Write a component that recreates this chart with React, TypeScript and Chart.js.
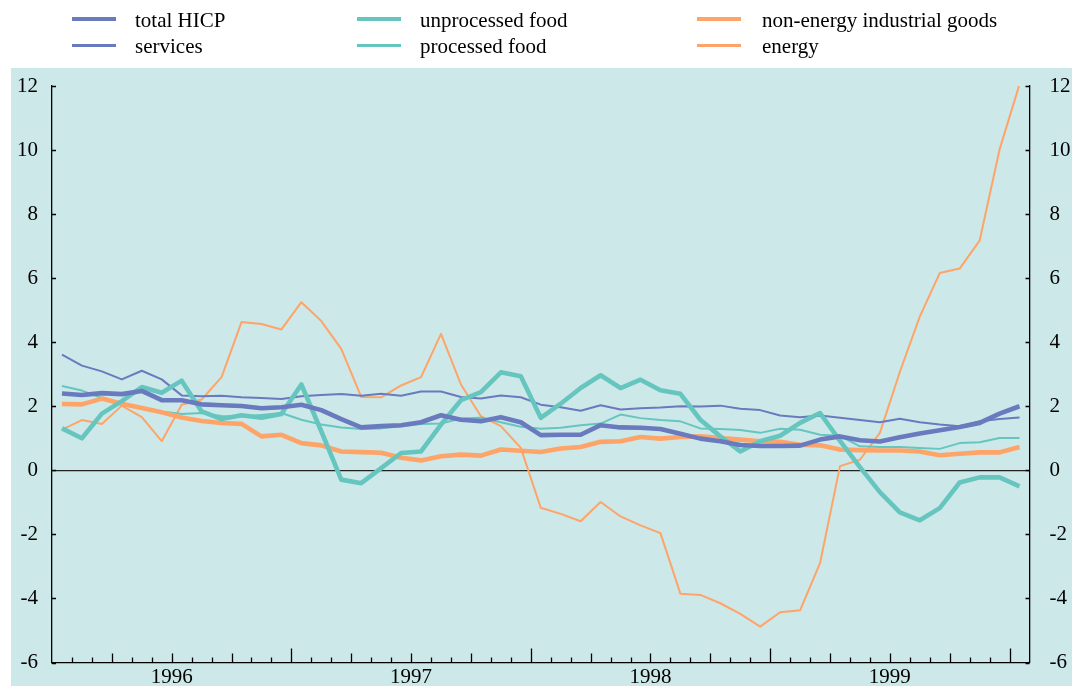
import React, { useEffect, useRef } from 'react';
import { Chart, registerables } from 'chart.js';

Chart.register(...registerables);

// ---- data ----
const months = [
  'Jan 1996', 'Feb 1996', 'Mar 1996', 'Apr 1996', 'May 1996', 'Jun 1996', 'Jul 1996', 'Aug 1996', 'Sep 1996', 'Oct 1996', 'Nov 1996', 'Dec 1996',
  'Jan 1997', 'Feb 1997', 'Mar 1997', 'Apr 1997', 'May 1997', 'Jun 1997', 'Jul 1997', 'Aug 1997', 'Sep 1997', 'Oct 1997', 'Nov 1997', 'Dec 1997',
  'Jan 1998', 'Feb 1998', 'Mar 1998', 'Apr 1998', 'May 1998', 'Jun 1998', 'Jul 1998', 'Aug 1998', 'Sep 1998', 'Oct 1998', 'Nov 1998', 'Dec 1998',
  'Jan 1999', 'Feb 1999', 'Mar 1999', 'Apr 1999', 'May 1999', 'Jun 1999', 'Jul 1999', 'Aug 1999', 'Sep 1999', 'Oct 1999', 'Nov 1999', 'Dec 1999',
  'Jan 2000',
];
const yearLabels = ['1996', '1997', '1998', '1999'];

const totalHICP = [
  2.40, 2.35, 2.41, 2.38, 2.48, 2.19, 2.19, 2.06, 2.03, 2.01, 1.94, 1.97,
  2.05, 1.88, 1.60, 1.34, 1.38, 1.41, 1.50, 1.72, 1.58, 1.53, 1.66, 1.50,
  1.10, 1.11, 1.11, 1.41, 1.34, 1.33, 1.29, 1.14, 0.99, 0.91, 0.79, 0.76,
  0.76, 0.77, 0.96, 1.06, 0.94, 0.90, 1.03, 1.15, 1.25, 1.35, 1.48, 1.77,
  2.00,
];
const services = [
  3.61, 3.27, 3.09, 2.84, 3.11, 2.84, 2.34, 2.31, 2.33, 2.28, 2.26, 2.23,
  2.31, 2.35, 2.38, 2.33, 2.39, 2.33, 2.46, 2.46, 2.29, 2.24, 2.34, 2.28,
  2.05, 1.97, 1.86, 2.03, 1.90, 1.94, 1.96, 2.00, 1.99, 2.02, 1.92, 1.88,
  1.71, 1.66, 1.71, 1.64, 1.57, 1.50, 1.61, 1.50, 1.43, 1.38, 1.53, 1.60,
  1.65,
];
const unprocessedFood = [
  1.31, 1.00, 1.77, 2.16, 2.60, 2.42, 2.80, 1.84, 1.60, 1.72, 1.64, 1.76,
  2.68, 1.22, -0.29, -0.40, 0.07, 0.54, 0.59, 1.43, 2.19, 2.44, 3.06, 2.94,
  1.64, 2.08, 2.57, 2.97, 2.57, 2.83, 2.50, 2.39, 1.58, 1.06, 0.59, 0.91,
  1.08, 1.48, 1.79, 0.92, 0.10, -0.68, -1.31, -1.56, -1.18, -0.38, -0.22, -0.22,
  -0.50,
];
const processedFood = [
  2.63, 2.49, 2.26, 2.05, 1.94, 1.84, 1.76, 1.79, 1.70, 1.68, 1.73, 1.79,
  1.58, 1.43, 1.34, 1.29, 1.31, 1.38, 1.45, 1.46, 1.62, 1.64, 1.50, 1.36,
  1.30, 1.33, 1.41, 1.46, 1.74, 1.63, 1.57, 1.53, 1.31, 1.29, 1.26, 1.17,
  1.30, 1.27, 1.11, 1.08, 0.75, 0.73, 0.73, 0.70, 0.67, 0.85, 0.88, 1.01,
  1.01,
];
const nonEnergyGoods = [
  2.07, 2.06, 2.24, 2.08, 1.95, 1.81, 1.65, 1.54, 1.48, 1.45, 1.06, 1.11,
  0.85, 0.78, 0.59, 0.57, 0.55, 0.39, 0.31, 0.44, 0.49, 0.46, 0.65, 0.61,
  0.57, 0.68, 0.73, 0.89, 0.91, 1.04, 0.99, 1.04, 1.06, 1.01, 0.96, 0.91,
  0.89, 0.80, 0.78, 0.65, 0.63, 0.62, 0.62, 0.59, 0.47, 0.52, 0.56, 0.56,
  0.73,
];
const energy = [
  1.27, 1.57, 1.45, 2.02, 1.66, 0.91, 2.05, 2.21, 2.91, 4.63, 4.57, 4.40,
  5.25, 4.66, 3.79, 2.29, 2.28, 2.65, 2.91, 4.26, 2.68, 1.69, 1.38, 0.70,
  -1.17, -1.36, -1.59, -0.99, -1.44, -1.72, -1.96, -3.85, -3.89, -4.15, -4.48, -4.88,
  -4.43, -4.37, -2.90, 0.13, 0.33, 1.17, 3.07, 4.80, 6.16, 6.30, 7.17, 10.02,
  12.05,
];

const Y_MIN = -6;
const Y_MAX = 12;
const Y_STEP = 2;

// ---- styles ----
const BLUE = '#6a7abf';
const TEAL = '#66c6bf';
const ORANGE = '#ffa468';
const BG = '#cce8e8';
const FONT = "'Liberation Serif', 'Times New Roman', serif";
const THICK = 4.6;
const THIN = 2;

const legendItems = [
  { label: 'total HICP', color: BLUE, thick: true, x: 72, textX: 135, row: 0 },
  { label: 'unprocessed food', color: TEAL, thick: true, x: 357, textX: 420, row: 0 },
  { label: 'non-energy industrial goods', color: ORANGE, thick: true, x: 697, textX: 762, row: 0 },
  { label: 'services', color: BLUE, thick: false, x: 72, textX: 135, row: 1 },
  { label: 'processed food', color: TEAL, thick: false, x: 357, textX: 420, row: 1 },
  { label: 'energy', color: ORANGE, thick: false, x: 697, textX: 762, row: 1 },
];

const toPoints = (vals: number[]) => vals.map((v, i) => ({ x: i, y: v }));

const decorPlugin = {
  id: 'decor',
  beforeDraw(chart: any) {
    const { ctx } = chart;
    ctx.save();
    ctx.fillStyle = '#ffffff';
    ctx.fillRect(0, 0, chart.width, chart.height);
    ctx.fillStyle = BG;
    ctx.fillRect(11, 68, chart.width - 11, chart.height - 68);
    ctx.restore();
  },
  afterDraw(chart: any) {
    const { ctx, chartArea, scales } = chart;
    const xs = scales.x;
    const ys = scales.y;
    ctx.save();
    ctx.strokeStyle = '#000';
    ctx.lineWidth = 1.3;
    // monthly ticks along bottom, pointing up
    for (let k = 1; k < months.length; k++) {
      const px = Math.round(xs.getPixelForValue(k - 0.5)) + 0.5;
      const len = k % 12 === 0 ? 14 : k % 3 === 0 ? 9 : 5;
      ctx.beginPath();
      ctx.moveTo(px, chartArea.bottom);
      ctx.lineTo(px, chartArea.bottom - len);
      ctx.stroke();
    }
    // inward y ticks on both axes
    ys.ticks.forEach((t: any) => {
      const py = Math.round(ys.getPixelForValue(t.value)) + 0.5;
      ctx.beginPath();
      ctx.moveTo(chartArea.left, py);
      ctx.lineTo(chartArea.left + 4, py);
      ctx.moveTo(chartArea.right, py);
      ctx.lineTo(chartArea.right - 4, py);
      ctx.stroke();
    });
    ctx.restore();
  },
};

export default function App() {
  const canvasRef = useRef<HTMLCanvasElement | null>(null);

  useEffect(() => {
    if (!canvasRef.current) return;
    Chart.defaults.font.family = FONT;
    Chart.defaults.font.size = 21;
    Chart.defaults.color = '#000';

    const yearCenters = yearLabels.map((y) => months.indexOf('Jun ' + y) + 0.5);

    const line = (label: string, data: number[], color: string, width: number, order: number) => ({
      label,
      data: toPoints(data),
      borderColor: color,
      backgroundColor: color,
      borderWidth: width,
      pointRadius: 0,
      tension: 0,
      fill: false,
      borderJoinStyle: 'round' as const,
      borderCapStyle: 'butt' as const,
      order,
    });

    const chart = new Chart(canvasRef.current, {
      type: 'line',
      data: {
        datasets: [
          line('total HICP', totalHICP, BLUE, THICK, 1),
          line('unprocessed food', unprocessedFood, TEAL, THICK, 2),
          line('non-energy industrial goods', nonEnergyGoods, ORANGE, THICK, 3),
          line('services', services, BLUE, THIN, 4),
          line('processed food', processedFood, TEAL, THIN, 5),
          line('energy', energy, ORANGE, THIN, 6),
        ],
      },
      options: {
        animation: false,
        responsive: false,
        maintainAspectRatio: false,
        layout: { padding: { top: 86, left: 0, right: 0, bottom: 0 } },
        plugins: {
          legend: { display: false },
          tooltip: { enabled: false },
        },
        scales: {
          x: {
            type: 'linear',
            min: -0.5,
            max: months.length - 0.5,
            grid: { display: false },
            border: { display: true, color: '#000', width: 1.3 },
            afterBuildTicks: (scale: any) => {
              scale.ticks = yearCenters.map((v) => ({ value: v }));
            },
            ticks: {
              autoSkip: false,
              maxRotation: 0,
              padding: -4,
              font: { size: 21, family: FONT, lineHeight: 1 },
              color: '#000',
              callback: (value: any) => {
                const idx = yearCenters.indexOf(Number(value));
                return idx >= 0 ? yearLabels[idx] : '';
              },
            },
            afterFit: (scale: any) => {
              scale.height = 23.5;
              scale.paddingLeft = 0;
              scale.paddingRight = 0;
            },
          },
          y: {
            position: 'left',
            min: Y_MIN,
            max: Y_MAX,
            grid: {
              display: true,
              drawTicks: false,
              lineWidth: 1.3,
              color: (ctx: any) => (ctx.tick && ctx.tick.value === 0 ? '#222' : 'rgba(0,0,0,0)'),
            },
            border: { display: true, color: '#000', width: 1.3 },
            ticks: {
              stepSize: Y_STEP,
              padding: 14,
              font: { size: 21, family: FONT },
              color: '#000',
            },
            afterFit: (scale: any) => {
              scale.width = 52;
              scale.paddingTop = 0;
              scale.paddingBottom = 0;
            },
          },
          y2: {
            position: 'right',
            min: Y_MIN,
            max: Y_MAX,
            grid: { display: false },
            border: { display: true, color: '#000', width: 1.3 },
            ticks: {
              stepSize: Y_STEP,
              padding: 12,
              font: { size: 21, family: FONT },
              color: '#000',
            },
            afterFit: (scale: any) => {
              scale.width = 42.5;
              scale.paddingTop = 0;
              scale.paddingBottom = 0;
            },
          },
        },
      } as any,
      plugins: [decorPlugin],
    });

    return () => {
      chart.destroy();
    };
  }, []);

  return (
    <div
      style={{
        position: 'fixed',
        left: 0,
        top: 0,
        width: 1072,
        height: 686,
        background: '#fff',
        overflow: 'hidden',
      }}
    >
      <canvas ref={canvasRef} width={1072} height={686} style={{ width: 1072, height: 686, display: 'block' }} />
      {legendItems.map((it) => {
        const cy = it.row === 0 ? 19.2 : 45.2;
        const h = it.thick ? 4.5 : 2.8;
        return (
          <React.Fragment key={it.label}>
            <div
              style={{
                position: 'absolute',
                left: it.x,
                top: cy - h / 2,
                width: 44,
                height: h,
                background: it.color,
              }}
            />
            <div
              style={{
                position: 'absolute',
                left: it.textX,
                top: it.row === 0 ? 9.7 : 35.7,
                fontFamily: FONT,
                fontSize: 21,
                lineHeight: '21px',
                color: '#000',
                whiteSpace: 'nowrap',
              }}
            >
              {it.label}
            </div>
          </React.Fragment>
        );
      })}
    </div>
  );
}
